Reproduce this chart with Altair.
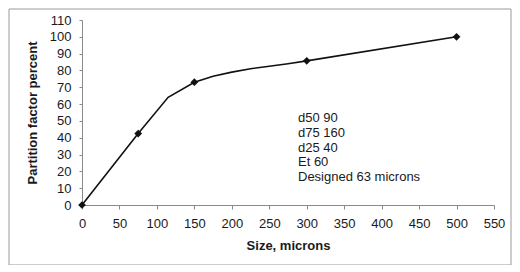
import altair as alt
import pandas as pd

# Curve (smoothed) through the measured partition points
curve_size = [0, 75, 115, 150, 175, 200, 225, 250, 275, 300, 500]
curve_pct = [0, 42.5, 64, 73, 76.5, 79, 81, 82.5, 84, 85.7, 100]

# Measured points shown with diamond markers
point_size = [0, 75, 150, 300, 500]
point_pct = [0, 42.5, 73, 85.7, 100]

note_lines = ["d50 90", "d75 160", "d25 40", "Et 60", "Designed 63 microns"]

x_ticks = list(range(0, 551, 50))
y_ticks = list(range(0, 111, 10))

curve = pd.DataFrame({"size": curve_size, "pct": curve_pct})
points = pd.DataFrame({"size": point_size, "pct": point_pct})

FONT = "Liberation Sans"
W, H = 412, 185

x_enc = alt.X(
    "size:Q",
    scale=alt.Scale(domain=[0, 550], nice=False),
    axis=alt.Axis(values=x_ticks, title="Size, microns", grid=False,
                  tickSize=4, labelPadding=8, titlePadding=9,
                  labelOverlap=False, labelFlush=False),
)
y_enc = alt.Y(
    "pct:Q",
    scale=alt.Scale(domain=[0, 110], nice=False),
    axis=alt.Axis(values=y_ticks, title="Partition factor percent", grid=False,
                  tickSize=3, labelPadding=8, titlePadding=10,
                  labelOverlap=False, labelFlush=False),
)

line = alt.Chart(curve).mark_line(color="#111111", strokeWidth=1.6).encode(
    x=x_enc, y=y_enc
)
marks = alt.Chart(points).mark_point(
    shape="diamond", filled=True, color="#111111", size=60, opacity=1
).encode(x=x_enc, y=y_enc)

note = alt.Chart(pd.DataFrame({"t": [0]})).mark_text(
    align="left", baseline="alphabetic", fontSize=13, font=FONT,
    lineHeight=14.8, color="#1a1a1a"
).encode(x=alt.value(216), y=alt.value(102), text=alt.value(note_lines))

frame = alt.Chart(pd.DataFrame({"t": [0]})).mark_rect(
    fill=None, stroke="#9a9a9a", strokeWidth=1
).encode(x=alt.value(-73), x2=alt.value(429), y=alt.value(-11), y2=alt.value(245))

chart = (
    alt.layer(line, marks, note, frame)
    .properties(width=W, height=H,
                autosize=alt.AutoSizeParams(type="none"),
                padding={"left": 74, "top": 12, "right": 18, "bottom": 60})
    .configure_view(stroke=None)
    .configure_axis(
        labelFont=FONT, titleFont=FONT, labelFontSize=13, titleFontSize=13,
        titleFontWeight="bold", labelColor="#1a1a1a", titleColor="#1a1a1a",
        domainColor="#8a8a8a", tickColor="#8a8a8a", domainWidth=1,
    )
)

chart.save("out.html", embed_options={"renderer": "svg", "actions": False})
